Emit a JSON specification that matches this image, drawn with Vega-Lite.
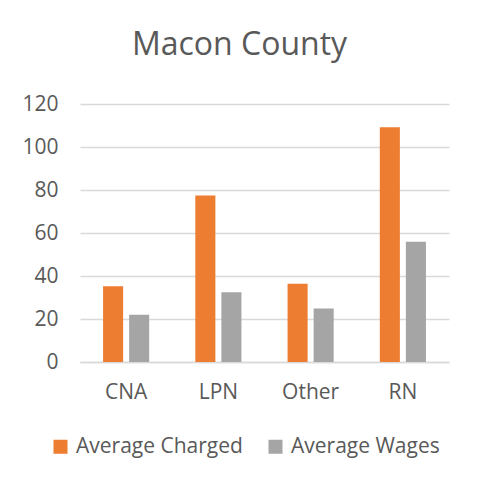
{
  "$schema": "https://vega.github.io/schema/vega-lite/v6.json",
  "width": 369,
  "height": 258,
  "autosize": {"type": "none"},
  "padding": {"left": 80, "top": 104, "right": 29, "bottom": 119},
  "background": "white",
  "title": {
    "text": "Macon County",
    "font": "Open Sans",
    "fontSize": 32,
    "fontWeight": "normal",
    "color": "#595959",
    "anchor": "middle",
    "frame": "group",
    "dx": -25,
    "offset": 31
  },
  "data": {
    "values": [
      {"cat": "CNA", "series": "Average Charged", "value": 35.2},
      {"cat": "CNA", "series": "Average Wages", "value": 22.0},
      {"cat": "LPN", "series": "Average Charged", "value": 77.4},
      {"cat": "LPN", "series": "Average Wages", "value": 32.5},
      {"cat": "Other", "series": "Average Charged", "value": 36.4},
      {"cat": "Other", "series": "Average Wages", "value": 24.9},
      {"cat": "RN", "series": "Average Charged", "value": 109.2},
      {"cat": "RN", "series": "Average Wages", "value": 55.9}
    ]
  },
  "mark": {"type": "bar"},
  "encoding": {
    "x": {
      "field": "cat",
      "type": "nominal",
      "scale": {"paddingInner": 0.5, "paddingOuter": 0.25},
      "axis": {
        "title": null,
        "labelAngle": 0,
        "labelFont": "Open Sans",
        "labelFontSize": 21,
        "labelColor": "#595959",
        "labelPadding": 19,
        "ticks": false,
        "domainColor": "#d9d9d9",
        "domainWidth": 1.5,
        "grid": false
      }
    },
    "xOffset": {
      "field": "series",
      "type": "nominal",
      "scale": {"paddingInner": 0.23}
    },
    "y": {
      "field": "value",
      "type": "quantitative",
      "scale": {"domain": [0, 120]},
      "axis": {
        "title": null,
        "values": [0, 20, 40, 60, 80, 100, 120],
        "labelFont": "Open Sans",
        "labelFontSize": 21,
        "labelColor": "#595959",
        "labelPadding": 22,
        "ticks": false,
        "domain": false,
        "gridColor": "#d9d9d9",
        "gridWidth": 1.5
      }
    },
    "color": {
      "field": "series",
      "type": "nominal",
      "scale": {"domain": ["Average Charged", "Average Wages"], "range": ["#ed7d31", "#a5a5a5"]},
      "legend": {
        "title": null,
        "orient": "none",
        "direction": "horizontal",
        "legendX": -30,
        "legendY": 332,
        "symbolType": "square",
        "symbolSize": 196,
        "symbolStrokeWidth": 0,
        "labelFont": "Open Sans",
        "labelFontSize": 21,
        "labelColor": "#595959",
        "labelLimit": 400,
        "columnPadding": 22,
        "labelOffset": 5
      }
    }
  },
  "config": {"view": {"stroke": null}}
}
